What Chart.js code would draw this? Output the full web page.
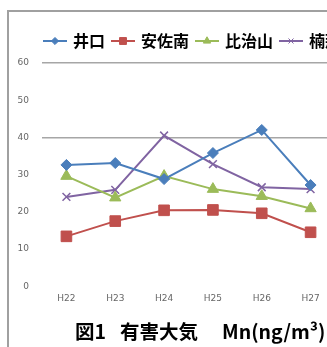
<!DOCTYPE html>
<html>
<head>
<meta charset="utf-8">
<script src="https://cdn.jsdelivr.net/npm/chart.js@4"></script>
<style>
    body { margin: 0; background: #fff; }
    #wrap { position: relative; width: 327px; height: 347px; overflow: hidden; background: #fff; }
    #frame { position: absolute; left: 7px; top: 10px; width: 400px; height: 400px; border-left: 2px solid #a0a0a0; border-top: 2px solid #a0a0a0; }
    #chartBox { position: absolute; left: 0; top: 0; width: 380px; height: 347px; }
    #caption { position: absolute; left: 75px; top: 318px; white-space: nowrap;
        font: bold 19.5px "Noto Sans CJK JP", sans-serif; line-height: 26px; color: #000; }
    #caption .a { margin-left: 14px; }
    #caption .b { margin-left: 24px; }
</style>
</head>
<body>
<div id="wrap">
    <div id="frame"></div>
    <div id="chartBox"><canvas id="mnChart"></canvas></div>
    <div id="caption"><span>図1</span><span class="a">有害大気</span><span class="b">Mn(ng/m³)</span></div>
</div>
<script>
const years = ['H22', 'H23', 'H24', 'H25', 'H26', 'H27'];
const seriesNames = ['井口', '安佐南', '比治山', '楠那'];
const iguchi = [32.6, 33.1, 28.8, 35.8, 42.0, 27.2];
const asaminami = [13.4, 17.5, 20.4, 20.5, 19.6, 14.5];
const hijiyama = [29.6, 23.8, 29.6, 26.1, 24.2, 20.9];
const kusuna = [24.0, 25.9, 40.5, 32.8, 26.6, 26.1];
const yTicks = [0, 10, 20, 30, 40, 50, 60];
const gridValues = [40, 60];

const colors = ['#4a7ebb', '#c0504d', '#9bbb59', '#8064a2'];
const markers = ['rectRot', 'rect', 'triangle', 'crossRot'];
const markerSize = [5.5, 7.5, 6.5, 5.5];

// small line + marker swatch for the legend
function legendSwatch(i) {
    const c = document.createElement('canvas');
    c.width = 24; c.height = 12;
    const g = c.getContext('2d');
    g.strokeStyle = colors[i];
    g.lineWidth = 2;
    g.beginPath(); g.moveTo(0, 6); g.lineTo(24, 6); g.stroke();
    g.fillStyle = colors[i];
    g.lineWidth = 1;
    Chart.helpers.drawPoint(g, { pointStyle: markers[i], radius: markerSize[i] * 0.65, borderWidth: 1 }, 12, 6);
    return c;
}

// legend: a little more room under it, and moved right to where the original sits
const legendPlace = {
    id: 'legendPlace',
    beforeLayout(chart) {
        const lg = chart.legend;
        if (lg && !lg.fitPatched) {
            const fit = lg.fit;
            lg.fit = function () { fit.call(this); this.height += 4; };
            lg.fitPatched = true;
        }
    },
    afterLayout(chart) {
        const lg = chart.legend;
        const dx = 37 - lg.left;
        lg.left += dx;
        lg.right += dx;
    }
};

const allData = [iguchi, asaminami, hijiyama, kusuna];

const ctx = document.getElementById('mnChart').getContext('2d');
new Chart(ctx, {
    type: 'line',
    data: {
        labels: years,
        datasets: allData.map((d, i) => ({
            label: seriesNames[i],
            data: d,
            borderColor: colors[i],
            backgroundColor: colors[i],
            borderWidth: 2,
            pointStyle: markers[i],
            pointRadius: markerSize[i],
            pointBorderWidth: i === 3 ? 1.5 : 1,
            tension: 0
        }))
    },
    plugins: [legendPlace],
    options: {
        responsive: true,
        maintainAspectRatio: false,
        animation: false,
        layout: { padding: { left: 0, right: 45, top: 25, bottom: 36 } },
        plugins: {
            legend: {
                position: 'top',
                align: 'start',
                labels: {
                    usePointStyle: true,
                    pointStyleWidth: 20,
                    padding: 8,
                    color: '#000',
                    font: { family: 'Noto Sans CJK JP', size: 16, weight: 'bold' },
                    generateLabels: chart => chart.data.datasets.map((ds, i) => ({
                        text: ds.label,
                        pointStyle: legendSwatch(i),
                        fontColor: '#000',
                        datasetIndex: i,
                        lineWidth: 0
                    }))
                }
            },
            tooltip: { enabled: false }
        },
        scales: {
            x: {
                offset: true,
                grid: { display: false, drawTicks: false },
                border: { display: false },
                ticks: { color: '#666', font: { family: 'DejaVu Sans', size: 9 }, padding: 7 }
            },
            y: {
                min: 0,
                max: 60,
                afterBuildTicks: axis => { axis.ticks = yTicks.map(v => ({ value: v })); },
                afterFit: axis => { axis.width = 42; },
                grid: {
                    drawTicks: false,
                    color: c => gridValues.includes(c.tick.value) ? '#a6a6a6' : 'rgba(0,0,0,0)',
                    lineWidth: 1.5
                },
                border: { display: false },
                ticks: { color: '#666', font: { family: 'DejaVu Sans', size: 9 }, padding: 13 }
            }
        }
    }
});
</script>
</body>
</html>
